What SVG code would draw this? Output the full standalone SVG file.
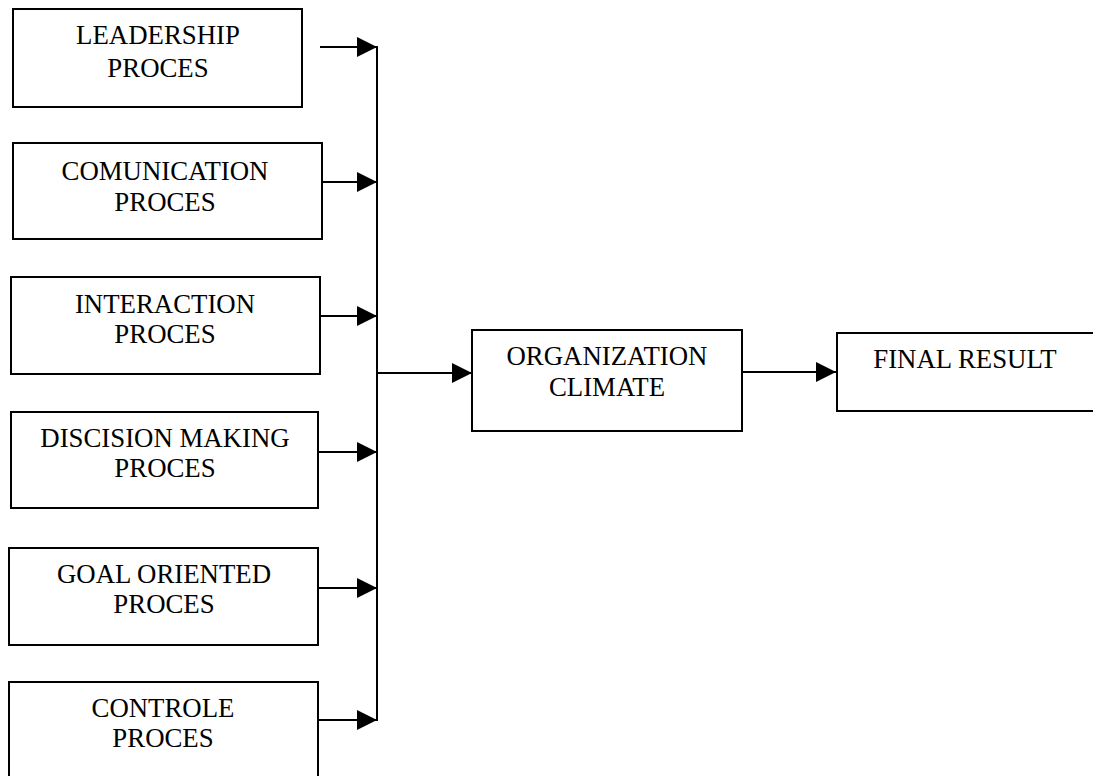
<svg xmlns="http://www.w3.org/2000/svg" width="1093" height="776" viewBox="0 0 1093 776">
  <style>
    .box { fill: #ffffff; stroke: #000000; stroke-width: 2; }
    .lbl { font-family: "Liberation Serif", "Times New Roman", serif; font-size: 26.8px; fill: #000000; text-anchor: middle; }
    .wire { fill: none; stroke: #000000; stroke-width: 2; }
  </style>
  <defs>
    <marker id="arrow" markerUnits="userSpaceOnUse" markerWidth="22" markerHeight="22" refX="20" refY="10" orient="auto">
      <path d="M0,0 L20,10 L0,20 Z" fill="#000000"/>
    </marker>
  </defs>
  <rect width="1093" height="776" fill="#ffffff"/>

  <g id="leadership">
    <rect class="box" x="13" y="9" width="289" height="98"/>
    <text class="lbl" x="158" y="44">LEADERSHIP</text>
    <text class="lbl" x="158" y="77">PROCES</text>
  </g>
  <g id="communication">
    <rect class="box" x="13" y="143" width="309" height="96"/>
    <text class="lbl" x="165" y="180">COMUNICATION</text>
    <text class="lbl" x="165" y="211">PROCES</text>
  </g>
  <g id="interaction">
    <rect class="box" x="11" y="277" width="309" height="97"/>
    <text class="lbl" x="165" y="313">INTERACTION</text>
    <text class="lbl" x="165" y="343">PROCES</text>
  </g>
  <g id="decision">
    <rect class="box" x="11" y="412" width="307" height="96"/>
    <text class="lbl" x="165" y="447">DISCISION MAKING</text>
    <text class="lbl" x="165" y="477">PROCES</text>
  </g>
  <g id="goal">
    <rect class="box" x="9" y="548" width="309" height="97"/>
    <text class="lbl" x="164" y="583">GOAL ORIENTED</text>
    <text class="lbl" x="164" y="613">PROCES</text>
  </g>
  <g id="control">
    <rect class="box" x="9" y="682" width="309" height="110"/>
    <text class="lbl" x="163" y="717">CONTROLE</text>
    <text class="lbl" x="163" y="747">PROCES</text>
  </g>
  <g id="climate">
    <rect class="box" x="472" y="330" width="270" height="101"/>
    <text class="lbl" x="607" y="365">ORGANIZATION</text>
    <text class="lbl" x="607" y="396">CLIMATE</text>
  </g>
  <g id="result">
    <rect class="box" x="837" y="333" width="270" height="78"/>
    <text class="lbl" x="965" y="368">FINAL RESULT</text>
  </g>

  <g id="connectors">
    <line class="wire" x1="377" y1="46" x2="377" y2="721"/>
    <line class="wire" x1="320" y1="47" x2="377" y2="47" marker-end="url(#arrow)"/>
    <line class="wire" x1="322" y1="182" x2="377" y2="182" marker-end="url(#arrow)"/>
    <line class="wire" x1="320" y1="316" x2="377" y2="316" marker-end="url(#arrow)"/>
    <line class="wire" x1="318" y1="452" x2="377" y2="452" marker-end="url(#arrow)"/>
    <line class="wire" x1="318" y1="588" x2="377" y2="588" marker-end="url(#arrow)"/>
    <line class="wire" x1="318" y1="720" x2="377" y2="720" marker-end="url(#arrow)"/>
    <line class="wire" x1="377" y1="373" x2="472" y2="373" marker-end="url(#arrow)"/>
    <line class="wire" x1="742" y1="372" x2="836" y2="372" marker-end="url(#arrow)"/>
  </g>
</svg>
